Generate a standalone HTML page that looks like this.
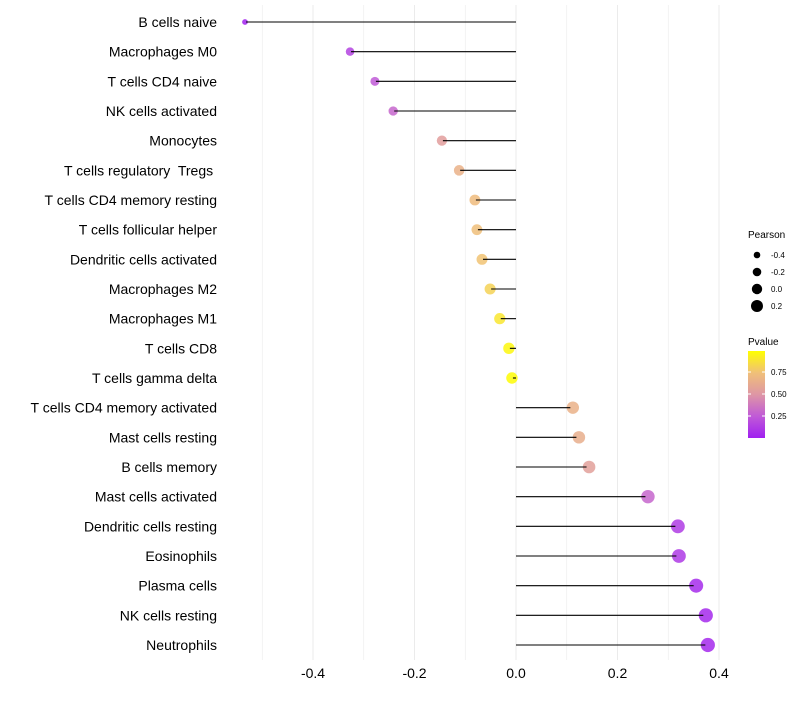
<!DOCTYPE html>
<html><head><meta charset="utf-8"><style>
body{margin:0;background:#fff;font-family:"Liberation Sans",sans-serif}
</style></head><body>
<svg id="c" width="800" height="700" xmlns="http://www.w3.org/2000/svg"></svg>
<script>
const categories=["B cells naive","Macrophages M0","T cells CD4 naive","NK cells activated","Monocytes","T cells regulatory  Tregs ","T cells CD4 memory resting","T cells follicular helper","Dendritic cells activated","Macrophages M2","Macrophages M1","T cells CD8","T cells gamma delta","T cells CD4 memory activated","Mast cells resting","B cells memory","Mast cells activated","Dendritic cells resting","Eosinophils","Plasma cells","NK cells resting","Neutrophils"];
const pearson=[-0.534,-0.327,-0.278,-0.242,-0.146,-0.112,-0.081,-0.077,-0.067,-0.051,-0.032,-0.014,-0.008,0.112,0.124,0.144,0.260,0.319,0.321,0.355,0.374,0.378];
const pvalue=[0.01,0.15,0.25,0.3,0.55,0.66,0.72,0.74,0.76,0.82,0.9,0.97,0.99,0.66,0.64,0.56,0.3,0.12,0.11,0.05,0.04,0.04];
const xTicks=[-0.4,-0.2,0.0,0.2,0.4];
const sizeTicks=[-0.4,-0.2,0.0,0.2];
const pTicks=[0.25,0.5,0.75];
const svg=document.getElementById('c');const NS="http://www.w3.org/2000/svg";
function el(t,a,p){const e=document.createElementNS(NS,t);for(const k in a)e.setAttribute(k,a[k]);(p||svg).appendChild(e);return e;}
const x=v=>516+v*507.5;
const y=i=>22+i*(623/21);
const r=v=>Math.sqrt(Math.max(3.5,33+46*v));
const stops=[[0,[160,32,240]],[0.25,[192,90,215]],[0.5,[222,150,165]],[0.75,[240,192,120]],[1,[255,255,0]]];
function col(p){for(let i=1;i<stops.length;i++){if(p<=stops[i][0]){const a=stops[i-1],b=stops[i],t=(p-a[0])/(b[0]-a[0]);return 'rgb('+a[1].map((c,j)=>Math.round(c+(b[1][j]-c)*t)).join(',')+')';}}return 'rgb(255,255,0)';}
for(let v=-0.5;v<=0.41;v+=0.1){const g=el('line',{x1:x(v),x2:x(v),y1:5,y2:660,stroke:'#ebebeb','stroke-width':Math.abs(Math.round(v*10))%2===0?1:0.6});
}
xTicks.forEach(v=>{const t=el('text',{x:x(v),y:678,'text-anchor':'middle','font-size':14,fill:'#000'});t.textContent=v.toFixed(1);
});
categories.forEach((c,i)=>{
const t=el('text',{x:217,y:y(i)+5,'text-anchor':'end','font-size':14,fill:'#000'});t.setAttribute('xml:space','preserve');t.style.whiteSpace='pre';t.textContent=c;

const v=pearson[i];const off=v>0?-2.5:1;
const d=el('circle',{cx:x(v),cy:y(i),r:r(v),fill:col(pvalue[i]),'fill-opacity':0.85});

const l=el('line',{x1:x(0),x2:x(v)+off,y1:y(i),y2:y(i),stroke:'#000','stroke-width':1.1});

});
const lt=el('text',{x:748,y:238,'font-size':10,fill:'#000'});lt.textContent='Pearson';

sizeTicks.forEach((v,i)=>{const cy=255+i*17;const c=el('circle',{cx:757,cy:cy,r:[3.3,4.3,5.2,6][i],fill:'#000'});

const t=el('text',{x:771,y:cy+3,'font-size':8,fill:'#000'});t.textContent=v.toFixed(1);
});
const pt=el('text',{x:748,y:345,'font-size':10,fill:'#000'});pt.textContent='Pvalue';

const defs=el('defs',{});const lg=el('linearGradient',{id:'g',x1:0,y1:1,x2:0,y2:0},defs);
stops.forEach(s=>el('stop',{offset:s[0],'stop-color':col(s[0])},lg));
const bar=el('rect',{x:748,y:351,width:17,height:87,fill:'url(#g)'});

const py=p=>438-p*88;
pTicks.forEach(p=>{el('line',{x1:748,x2:751,y1:py(p),y2:py(p),stroke:'#fff'});el('line',{x1:762,x2:765,y1:py(p),y2:py(p),stroke:'#fff'});
const t=el('text',{x:771,y:py(p)+3,'font-size':8,fill:'#000'});t.textContent=p.toFixed(2);
});
</script>
</body></html>
